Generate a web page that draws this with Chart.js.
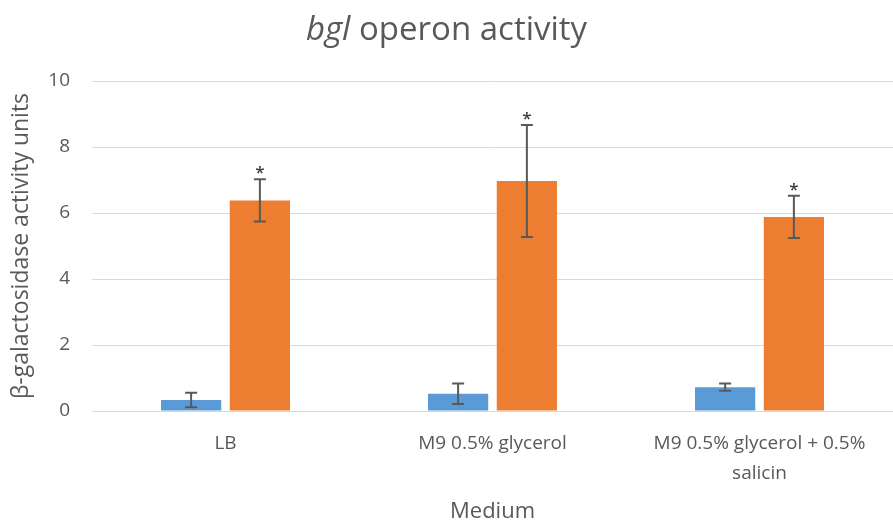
<!DOCTYPE html>
<html>
<head>
<meta charset="utf-8">
<script src="https://cdn.jsdelivr.net/npm/chart.js@4.4.0/dist/chart.umd.min.js"></script>
<style>
  html, body { margin: 0; padding: 0; background: #fff; }
  #wrap { width: 893px; height: 523px; }
</style>
</head>
<body>
<div id="wrap"><canvas id="chart" width="893" height="523"></canvas></div>
<script>
// data
const categories = ["LB", "M9 0.5% glycerol", ["M9 0.5% glycerol + 0.5%", "salicin"]];
const seriesA = [0.33, 0.52, 0.72];
const seriesAErr = [0.22, 0.31, 0.11];
const seriesB = [6.38, 6.97, 5.88];
const seriesBErr = [0.64, 1.70, 0.64];
const seriesBStar = ["*", "*", "*"];
const yTicks = [0, 2, 4, 6, 8, 10];

const FONT = "'Open Sans', Lato, sans-serif";
const TEXT = "#595959";

// error bars + asterisks drawn on top of the bars
const errorBars = {
  id: "errorBars",
  afterDatasetsDraw(chart) {
    const ctx = chart.ctx;
    const y = chart.scales.y;
    const errs = [seriesAErr, seriesBErr];
    ctx.save();
    ctx.strokeStyle = "#595959";
    ctx.lineWidth = 2;
    chart.data.datasets.forEach((ds, di) => {
      const meta = chart.getDatasetMeta(di);
      meta.data.forEach((bar, i) => {
        const v = ds.data[i], e = errs[di][i];
        const x = bar.x;
        const top = y.getPixelForValue(v + e);
        const bot = y.getPixelForValue(v - e);
        ctx.beginPath();
        ctx.moveTo(x, top); ctx.lineTo(x, bot);
        ctx.moveTo(x - 6, top); ctx.lineTo(x + 6, top);
        ctx.moveTo(x - 6, bot); ctx.lineTo(x + 6, bot);
        ctx.stroke();
        if (di === 1 && seriesBStar[i]) {
          ctx.fillStyle = "#404040";
          ctx.font = "600 17px " + FONT;
          ctx.textAlign = "center";
          ctx.textBaseline = "alphabetic";
          ctx.fillText(seriesBStar[i], x, top - 1);
        }
      });
    });
    ctx.restore();
  }
};

// title with italic gene name
const mixedTitle = {
  id: "mixedTitle",
  afterDraw(chart) {
    const ctx = chart.ctx;
    const parts = [["italic", "bgl"], ["normal", " operon activity"]];
    ctx.save();
    ctx.fillStyle = TEXT;
    ctx.textBaseline = "middle";
    let total = 0;
    parts.forEach(p => { ctx.font = p[0] + " 33px " + FONT; total += ctx.measureText(p[1]).width; });
    let x = chart.width / 2 - total / 2;
    parts.forEach(p => {
      ctx.font = p[0] + " 33px " + FONT;
      ctx.textAlign = "left";
      ctx.fillText(p[1], x, 31);
      x += ctx.measureText(p[1]).width;
    });
    ctx.restore();
  }
};

new Chart(document.getElementById("chart"), {
  type: "bar",
  data: {
    labels: categories,
    datasets: [
      { label: "A", data: seriesA, backgroundColor: "#5B9BD5", borderWidth: 0,
        categoryPercentage: 0.515, barPercentage: 0.876 },
      { label: "B", data: seriesB, backgroundColor: "#ED7D31", borderWidth: 0,
        categoryPercentage: 0.515, barPercentage: 0.876 }
    ]
  },
  options: {
    responsive: false,
    animation: false,
    layout: { padding: { top: 81, right: 0, bottom: 0, left: 8 } },
    plugins: { legend: { display: false }, tooltip: { enabled: false }, title: { display: false } },
    scales: {
      x: {
        afterFit(s) { s.height = 112; },
        grid: { display: false },
        border: { color: "#D9D9D9", width: 1 },
        ticks: { color: TEXT, font: { family: FONT, size: 19, lineHeight: 1.55 }, maxRotation: 0, autoSkip: false, padding: 10 },
        title: { display: true, text: "Medium", color: TEXT, font: { family: FONT, size: 22, lineHeight: 1.0 }, padding: { top: 8, bottom: 0 } }
      },
      y: {
        min: 0, max: 10,
        afterBuildTicks(s) { s.ticks = yTicks.map(v => ({ value: v })); },
        afterFit(s) { s.width = 84; },
        grid: { color: "#D9D9D9", lineWidth: 1, drawTicks: false },
        border: { display: false },
        ticks: { color: TEXT, font: { family: FONT, size: 19 }, padding: 22 },
        title: { display: true, text: "β-galactosidase activity units", color: TEXT, font: { family: FONT, size: 23 }, padding: 0 }
      }
    }
  },
  plugins: [errorBars, mixedTitle]
});
</script>
</body>
</html>
